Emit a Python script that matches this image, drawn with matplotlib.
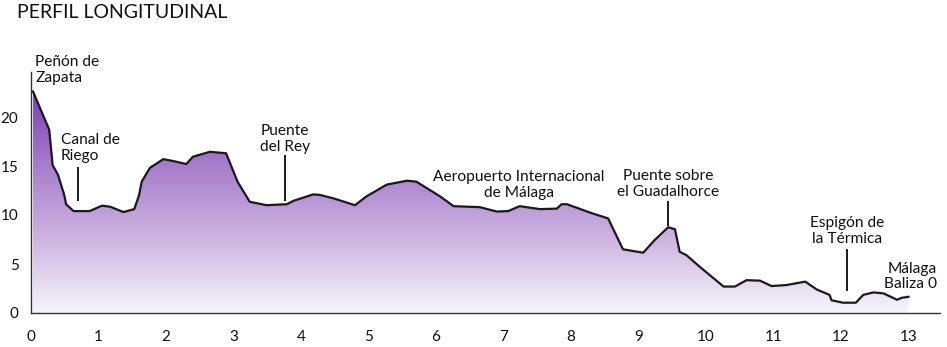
import numpy as np
import matplotlib
matplotlib.use("Agg")
import matplotlib.pyplot as plt
from matplotlib.colors import LinearSegmentedColormap
from matplotlib.patches import Polygon

plt.rcParams['font.family'] = ['Lato', 'DejaVu Sans']

# Profile (distance km, elevation m)
dist = [0.03, 0.27, 0.32, 0.40, 0.49, 0.52, 0.63, 0.87, 1.05, 1.17, 1.37, 1.53, 1.60, 1.64,
        1.76, 1.96, 2.11, 2.30, 2.40, 2.65, 2.89, 3.06, 3.24, 3.49, 3.79, 3.89, 4.18, 4.28,
        4.48, 4.80, 4.97, 5.27, 5.57, 5.71, 6.06, 6.26, 6.65, 6.90, 7.07, 7.24, 7.54, 7.79,
        7.86, 7.94, 8.28, 8.55, 8.77, 9.07, 9.24, 9.44, 9.54, 9.61, 9.71, 9.91, 10.26, 10.43,
        10.60, 10.80, 10.97, 11.19, 11.47, 11.64, 11.83, 11.86, 12.03, 12.22, 12.33, 12.48,
        12.63, 12.83, 12.90, 13.00]
elev = [22.6, 18.7, 15.1, 14.1, 12.1, 11.1, 10.4, 10.4, 10.95, 10.85, 10.3, 10.6, 12.0, 13.4,
        14.8, 15.7, 15.5, 15.2, 15.95, 16.45, 16.3, 13.4, 11.35, 11.0, 11.1, 11.45, 12.1, 12.05,
        11.7, 11.0, 11.9, 13.1, 13.5, 13.4, 11.9, 10.9, 10.8, 10.35, 10.4, 10.9, 10.6, 10.65,
        11.1, 11.1, 10.25, 9.65, 6.5, 6.15, 7.45, 8.75, 8.55, 6.25, 5.9, 4.7, 2.7, 2.7,
        3.35, 3.3, 2.75, 2.85, 3.2, 2.4, 1.85, 1.3, 1.05, 1.05, 1.85, 2.1,
        2.0, 1.35, 1.55, 1.65]

x_ticks = list(range(0, 14))
y_ticks = [0, 5, 10, 15, 20]

labels = ["Peñón de\nZapata", "Canal de\nRiego", "Puente\ndel Rey",
          "Aeropuerto Internacional\nde Málaga", "Puente sobre\nel Guadalhorce",
          "Espigón de\nla Térmica", "Málaga\nBaliza 0"]
label_x = [0.06, 0.44, 3.76, 7.23, 9.44, 12.09, 13.42]
label_y = [23.6, 15.6, 16.5, 11.8, 11.9, 7.1, 2.5]   # baseline of last line
label_ha = ['left', 'left', 'center', 'center', 'center', 'center', 'right']
leader_x = [None, 0.70, 3.76, None, 9.44, 12.09, None]
leader_top = [None, 14.8, 16.0, None, 11.35, 6.4, None]
leader_bot = [None, 11.5, 11.5, None, 9.0, 2.35, None]

fig = plt.figure(figsize=(9.47, 3.47), dpi=100)
ax = fig.add_axes([31/947, 34/347, 909/947, 241/347])
xmax = 909/67.5
ymax = 241/9.8
ax.set_xlim(0, xmax)
ax.set_ylim(0, ymax)

# gradient fill clipped by profile
verts = [(dist[0], 0)] + list(zip(dist, elev)) + [(dist[-1], 0)]
poly = Polygon(verts, closed=True, facecolor='none', edgecolor='none')
ax.add_patch(poly)
cmap = LinearSegmentedColormap.from_list('pur', ['#f7f4fb', '#cdb3e1', '#a57bcb', '#7a3db0'])
grad = np.linspace(0, 1, 256).reshape(-1, 1)
im = ax.imshow(grad, extent=[0, xmax, 0, 23], origin='lower', aspect='auto', cmap=cmap,
               interpolation='bicubic', zorder=1)
im.set_clip_path(poly)

ax.plot(dist, elev, color='#1a1a1a', lw=1.6, zorder=3, solid_joinstyle='round')

for t, lx, ly, ha in zip(labels, label_x, label_y, label_ha):
    line1, line2 = t.split("\n")
    ax.text(lx, ly, line2, ha=ha, va='baseline', fontsize=11.2, color='#111111')
    ax.annotate(line1, (lx, ly), xytext=(0, 16), textcoords='offset pixels',
                ha=ha, va='baseline', fontsize=11.2, color='#111111')
for lx, lt, lb in zip(leader_x, leader_top, leader_bot):
    if lx is not None:
        ax.plot([lx, lx], [lb, lt], color='#1a1a1a', lw=1.4, zorder=3)

ax.set_xticks(x_ticks)
ax.set_yticks(y_ticks)
ax.tick_params(length=0, labelsize=11, colors='#111111')
ax.tick_params(axis='x', pad=12)
ax.tick_params(axis='y', pad=9)
for s in ['top', 'right']:
    ax.spines[s].set_visible(False)
for s in ['left', 'bottom']:
    ax.spines[s].set_color('#333333')
    ax.spines[s].set_linewidth(1.0)

fig.text(17/947, 1 - 18.3/347, "PERFIL LONGITUDINAL", fontsize=14, color='#111111',
         va='baseline', ha='left')

fig.savefig('out.png', dpi=100)
